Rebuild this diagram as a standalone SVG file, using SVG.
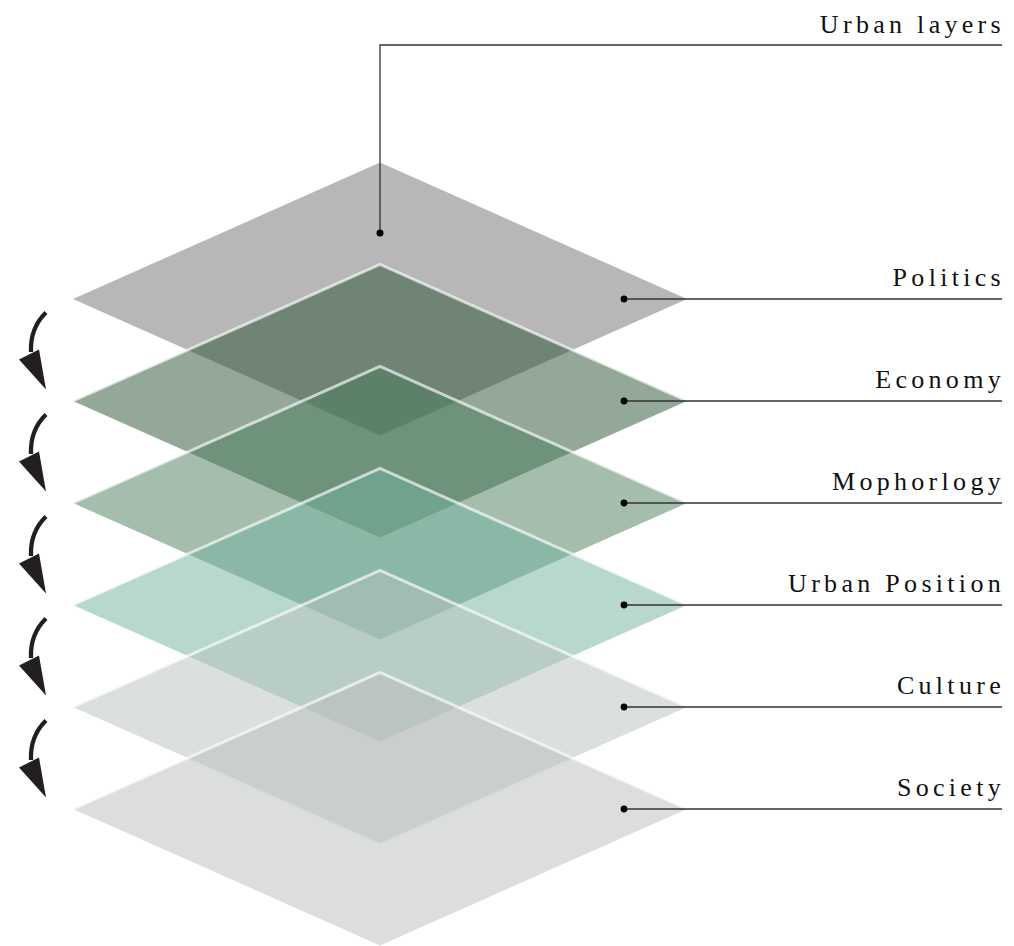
<svg xmlns="http://www.w3.org/2000/svg" width="1014" height="946" viewBox="0 0 1014 946">
<style>
.lbl{font-family:"Liberation Serif","Times New Roman",serif;font-size:26px;letter-spacing:4.3px;fill:#111111;text-anchor:end}
.edge{fill:none;stroke:#ffffff;stroke-opacity:0.65;stroke-width:3}
.lead{fill:none;stroke:#333333;stroke-width:1.3}
.dot{fill:#000000}
.arr{fill:none;stroke:#231f20;stroke-width:4.3}
.head{fill:#231f20}
</style>
<defs>
<polygon id="dia" points="380,-136.5 687,0 380,136.5 73,0"/>
<polyline id="top" points="73,0 380,-136.5 687,0"/>
<g id="arrow">
<path class="arr" d="M46,312.5 Q30,328 31,352"/>
<polygon class="head" points="19,359.5 39,349.5 46,389.5"/>
</g>
</defs>

<g id="politics" transform="translate(0,299)">
<use href="#dia" fill="#b7b7b7"/>
</g>
<g id="economy" transform="translate(0,401)">
<use href="#dia" fill="#275133" fill-opacity="0.5"/>
<use href="#top" class="edge"/>
</g>
<g id="morphology" transform="translate(0,503)">
<use href="#dia" fill="#4b7b5b" fill-opacity="0.5"/>
<use href="#top" class="edge"/>
</g>
<g id="urban-position" transform="translate(0,605)">
<use href="#dia" fill="#71b19f" fill-opacity="0.5"/>
<use href="#top" class="edge"/>
</g>
<g id="culture" transform="translate(0,707)">
<use href="#dia" fill="#b7c1bd" fill-opacity="0.5"/>
<use href="#top" class="edge"/>
</g>
<g id="society" transform="translate(0,809)">
<use href="#dia" fill="#b9bbbf" fill-opacity="0.5"/>
<use href="#top" class="edge"/>
</g>

<g id="connectors">
<polyline class="lead" points="380,233 380,45 1002,45"/>
<circle class="dot" cx="380" cy="233" r="3.5"/>
<line class="lead" x1="624" y1="299" x2="1002" y2="299"/>
<circle class="dot" cx="624" cy="299" r="3.4"/>
<line class="lead" x1="624" y1="401" x2="1002" y2="401"/>
<circle class="dot" cx="624" cy="401" r="3.4"/>
<line class="lead" x1="624" y1="503" x2="1002" y2="503"/>
<circle class="dot" cx="624" cy="503" r="3.4"/>
<line class="lead" x1="624" y1="605" x2="1002" y2="605"/>
<circle class="dot" cx="624" cy="605" r="3.4"/>
<line class="lead" x1="624" y1="707" x2="1002" y2="707"/>
<circle class="dot" cx="624" cy="707" r="3.4"/>
<line class="lead" x1="624" y1="809" x2="1002" y2="809"/>
<circle class="dot" cx="624" cy="809" r="3.4"/>
<use href="#arrow"/>
<use href="#arrow" transform="translate(0,102)"/>
<use href="#arrow" transform="translate(0,204)"/>
<use href="#arrow" transform="translate(0,306)"/>
<use href="#arrow" transform="translate(0,408)"/>
</g>

<g id="labels">
<text class="lbl" x="1005" y="33">Urban layers</text>
<text class="lbl" x="1005" y="286">Politics</text>
<text class="lbl" x="1005" y="388">Economy</text>
<text class="lbl" x="1005" y="490">Mophorlogy</text>
<text class="lbl" x="1005" y="592">Urban Position</text>
<text class="lbl" x="1005" y="694">Culture</text>
<text class="lbl" x="1005" y="796">Society</text>
</g>
</svg>
